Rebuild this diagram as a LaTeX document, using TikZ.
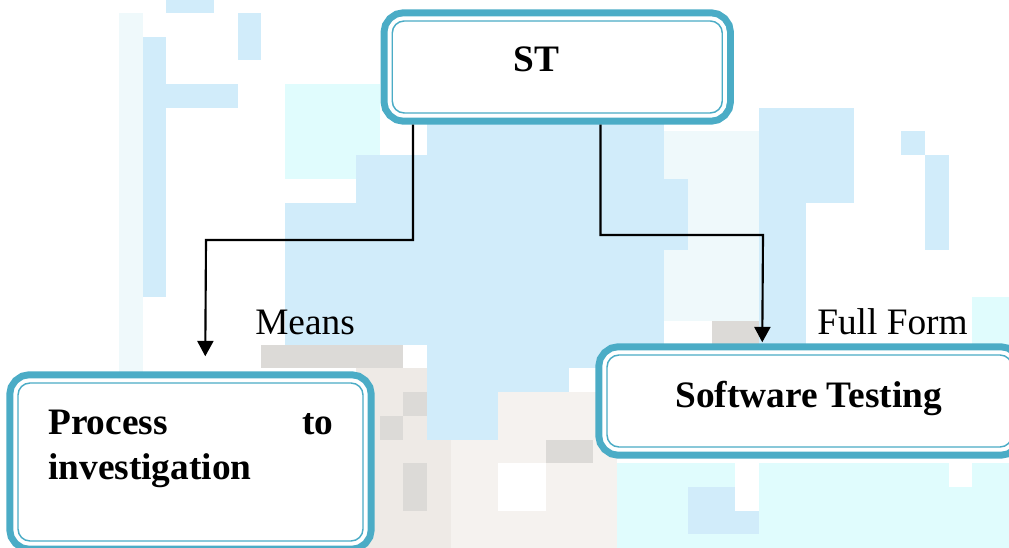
\documentclass[tikz,border=0pt]{standalone}
\usepackage{fontspec}
\setmainfont{Liberation Serif}
\usepackage{tikz}
\usetikzlibrary{calc}
\usetikzlibrary{positioning}
\usetikzlibrary{arrows.meta}

\definecolor{boxteal}{HTML}{4BACC6}
\definecolor{tileblue}{HTML}{D1ECFA}
\definecolor{tilecyan}{HTML}{E0FCFD}
\definecolor{tilepale}{HTML}{EFF9FB}
\definecolor{tilegray}{HTML}{DCDAD7}
\definecolor{tilebeige}{HTML}{EEEAE6}
\definecolor{tilesand}{HTML}{F5F2EF}

\tikzset{
	tealbox/.style={rounded corners=9pt, fill=white, draw=boxteal, line width=1.1pt,
		preaction={draw=boxteal, line width=17.6pt},
		preaction={draw=white, line width=7.1pt},
		inner sep=0pt},
	boxtext/.style={font=\fontsize{28}{33.75}\selectfont\bfseries, inner sep=0pt},
	plaintext/.style={font=\fontsize{28}{33.75}\selectfont, inner sep=0pt},
	link/.style={line width=1.6pt, -{Triangle[length=11.5pt,width=12pt]}}
}

\begin{document}
\begin{tikzpicture}[x=0.75pt, y=-0.75pt]
	\useasboundingbox (0,0) rectangle (1009,548);
	\clip (0,0) rectangle (1009,548);
	
	% mosaic grid
	\def\cs{23.7}
	\def\gx{119}
	\def\gy{13}
	
	%background tiles
	\foreach \ca/\ra/\cb/\rb/\col in {
		0/0/1/20/tilepale, 7/3/11/7/tilecyan, 23/5/27/13/tilepale,
		21/19/38/23/tilecyan, 36/12/38/14/tilecyan,
		14/16/21/23/tilesand, 10/15/14/23/tilebeige,
		1/1/2/12/tileblue, 2/-1/4/0/tileblue, 5/0/6/2/tileblue, 2/3/5/4/tileblue,
		7/8/13/14/tileblue, 10/6/13/8/tileblue, 13/4/23/15/tileblue,
		13/15/16/18/tileblue, 16/15/19/16/tileblue, 23/7/24/10/tileblue,
		27/4/31/8/tileblue, 27/8/29/14/tileblue, 33/5/34/6/tileblue,
		34/6/35/10/tileblue, 24/20/27/22/tileblue,
		6/14/12/15/tilegray, 12/16/13/17/tilegray, 11/17/12/18/tilegray,
		12/19/13/21/tilegray, 18/18/20/19/tilegray, 25/13/27/14/tilegray,
		26/19/27/21/white, 35/19/36/20/white, 16/19/18/21/white} {
		\fill[\col] ({\gx+\cs*\ca},{\gy+\cs*\ra}) rectangle ({\gx+\cs*\cb},{\gy+\cs*\rb});
	}
	
	%boxes
	\node[tealbox, minimum width=247.5pt, minimum height=69pt] (st_box) at (557.25,67) {};
	\node[tealbox, minimum width=258.75pt, minimum height=118.5pt] (process_box) at (190.5,462) {};
	\node[tealbox, minimum width=303.75pt, minimum height=69pt] (testing_box) at (809.5,401) {};
	
	%box texts
	\node[boxtext, anchor=base west] (st_text) at (513,72) {ST};
	\node[boxtext, anchor=base west] (testing_text) at (675,407) {Software Testing};
	\node[boxtext, anchor=north west, text width=213.75pt, align=left] (process_text) at (48,410) {Process\hfill to\\investigation};
	
	%labels
	\node[plaintext, anchor=base west] (means_label) at (255,335) {Means};
	\node[plaintext, anchor=base west] (fullform_label) at (817,335) {Full Form};
	
	% Connect boxes
	\coordinate (left_bend) at (206,240);
	\coordinate (right_bend) at (763,235);
	\draw[link] ($(st_box.south west)+(21.5,11)$) |- (left_bend) -- ($(process_box.north west)+(188,-26)$);
	\draw[link] ($(st_box.south west)+(209,11)$) |- (right_bend) -- ($(testing_box.north west)+(156,-12)$);

\end{tikzpicture}
\end{document}
